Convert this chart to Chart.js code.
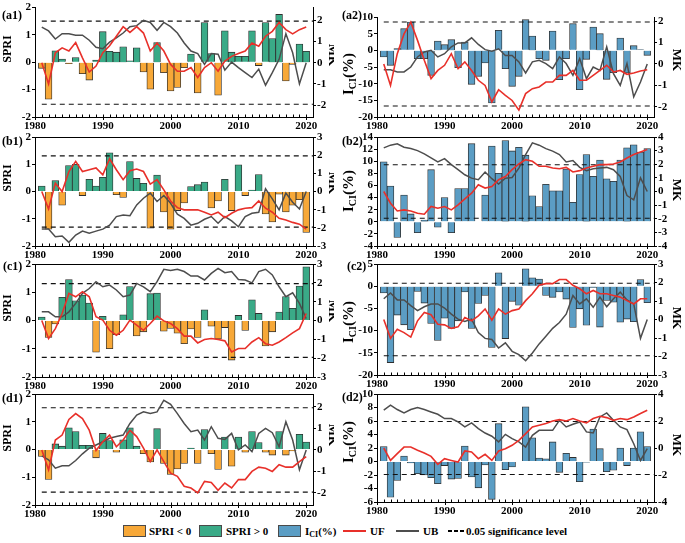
<!DOCTYPE html>
<html>
<head>
<meta charset="utf-8">
<script src="https://cdn.jsdelivr.net/npm/chart.js@4.4.0/dist/chart.umd.min.js"></script>
<style>
  body { margin: 0; width: 685px; height: 543px; background: #fff; position: relative; overflow: hidden;
         font-family: 'Liberation Serif', 'Times New Roman', serif; }
  canvas { position: absolute; }
  .lg { position: absolute; font: bold 11px 'Liberation Serif', 'Times New Roman', serif; color: #000; line-height: 12px; white-space: nowrap; }
  .box { position: absolute; height: 10px; width: 21px; border: 1px solid #4a4a4a; }
  .ln  { position: absolute; height: 2px; width: 23px; }
  .dash { position: absolute; height: 1.5px; width: 4px; background: #000; }
  sub { font-size: 8px; vertical-align: -2px; }
</style>
</head>
<body>

<div class="box" style="left:123px;top:525px;background:#F7A838"></div>
<div class="lg" style="left:149px;top:525px">SPRI &lt; 0</div>
<div class="box" style="left:199px;top:525px;background:#3AAA87"></div>
<div class="lg" style="left:226px;top:525px">SPRI &gt; 0</div>
<div class="box" style="left:278px;top:525px;background:#5B9DC4"></div>
<div class="lg" style="left:305px;top:525px">I<sub>CI</sub>(%)</div>
<div class="ln" style="left:343px;top:530px;background:#E8302A"></div>
<div class="lg" style="left:370px;top:525px">UF</div>
<div class="ln" style="left:396px;top:530px;background:#4D4D4D"></div>
<div class="lg" style="left:423px;top:525px">UB</div>
<div class="dash" style="left:448px;top:530px"></div>
<div class="dash" style="left:454px;top:530px"></div>
<div class="dash" style="left:460px;top:530px"></div>
<div class="lg" style="left:466px;top:525px">0.05 significance level</div>

<script>
/* ---- data ---- */
const YEARS = [1981, 1982, 1983, 1984, 1985, 1986, 1987, 1988, 1989, 1990,
               1991, 1992, 1993, 1994, 1995, 1996, 1997, 1998, 1999, 2000,
               2001, 2002, 2003, 2004, 2005, 2006, 2007, 2008, 2009, 2010,
               2011, 2012, 2013, 2014, 2015, 2016, 2017, 2018, 2019, 2020];
const DECADE_TICKS = [1980, 1990, 2000, 2010, 2020];
const SIG = 1.96;   // 0.05 significance level

// (a1) SPRI + MK
const spriA1 = [-0.22,-1.35,0.42,0.12,-0.05,0.17,-0.42,-0.65,0.08,1.12, 0.4,0.37,0.57,0.05,0.53,-0.35,-0.98,0.72,-0.38,-1.05,
                -0.92,-0.2,0.3,-1.12,1.45,0.32,-1.2,1.15,0.37,0.22, 0.22,1.15,-0.12,1.45,0.87,1.75,-0.68,-0.08,0.67,0.4];
const ufA1 = [0,-1.0,0.47,0.7,0.55,0.95,0.23,-0.44,-0.16,0.47, 0.8,1.25,1.7,1.43,1.7,1.4,0.55,0.93,0.55,-0.08,
              -0.4,-0.4,-0.23,-0.7,-0.23,0,-0.4,0.08,0.3,0.43, 0.55,0.93,0.78,1.25,1.48,1.9,1.56,1.36,1.56,1.68];
const ubA1 = [1.68,1.5,1.12,1.37,1.37,1.3,1.3,1.06,0.73,0.66, 0.97,1.17,1.4,1.7,1.75,2.0,1.9,1.53,1.9,1.7,
              1.4,0.93,0.55,0.43,-0.08,0.43,0.4,-0.35,0.03,-0.23, -0.47,-0.7,-0.3,-1.06,-0.47,0.16,1.37,0.47,-1.0,0];

// (a2) ICI + MK
const iciA2 = [-2,-4.5,0.5,6.5,8.5,-2.5,-2.5,-7.5,2.8,1.7, 3.2,-5.2,2.5,-10.2,-7.8,-3.8,-15.8,6.0,-5.5,-10.8,
               -7.8,9.2,4.3,-2.5,-3.0,5.8,-8.8,-2.5,8.0,-11.8, -2.7,7.0,5.0,-8.7,-6.7,3.7,-6.8,1.4,0.2,-1.5];
const ufA2 = [0,-1.0,0.48,1.4,1.95,1.1,0.17,-0.68,-0.3,-0.06, 0.48,-0.22,0.1,-0.3,-0.76,-1.0,-1.77,-1.2,-1.46,-1.7,
              -2.15,-1.38,-1.15,-1.07,-0.84,-0.84,-0.53,-0.53,-0.3,-0.76, -0.76,-0.53,-0.3,-0.06,-0.37,-0.3,-0.48,-0.42,-0.33,-0.27];
const ubA2 = [-0.27,-0.27,-0.37,-0.37,-0.14,0.33,0.56,0.64,0.33,0.48, 0.8,0.98,0.98,1.22,0.91,0.67,0.6,0.71,0.4,0.4,
              0.1,-0.42,0.1,0.17,0.02,-0.22,0.33,0.02,-0.53,0.25, -0.68,-0.14,-0.3,0.8,-0.45,-1.0,0.02,-1.53,-0.84,0];

// (b1)
const spriB1 = [0.2,-1.38,0.4,-0.5,0.95,1.0,-0.15,0.45,0.2,0.52, 1.42,-0.12,-0.22,1.1,0.48,0.3,-1.35,0.6,-0.75,-1.38,
                -0.7,-0.42,0.18,0.25,0.35,-0.6,-0.35,0.45,-0.7,0.98, -0.15,0.05,0.62,-0.82,-1.12,-0.1,-0.75,-0.5,-0.3,-1.5];
const ufB1 = [0,-0.96,0.46,0,1.1,1.66,1.1,1.2,1.3,0.92, 1.8,1.2,0.65,1.14,1.24,1.1,0.41,0.65,0.09,-0.52,
              -0.89,-1.01,-1.01,-1.01,-1.14,-1.29,-1.14,-1.44,-1.2,-1.01, -0.92,-0.89,-0.52,-0.92,-1.14,-1.48,-1.57,-1.7,-1.8,-2.07];
const ubB1 = [-2.07,-2.07,-2.49,-2.45,-2.8,-2.4,-2.18,-2.3,-2.18,-2.07, -1.85,-1.38,-1.29,-1.33,-0.74,-0.37,-0.09,-0.55,-0.22,-0.65,
              -1.25,-1.48,-1.85,-1.75,-1.53,-1.38,-1.75,-1.38,-1.62,-1.94, -1.38,-1.2,-1.14,0.15,-0.41,-1.01,-0.09,-0.59,-0.96,0];

// (b2)
const iciB2 = [9.9,5.9,-2.6,4.4,1.3,-1.8,0.3,8.6,-0.9,4.0, -1.8,5.5,5.5,12.9,0,4.4,12.5,8.0,13.4,11.7,
               12.3,11.0,4.3,2.5,6.2,5.1,5.1,8.7,3.2,7.8, 11.1,7.5,10.2,7.1,6.7,10.2,12.2,12.7,11.5,12.1];
const ufB2 = [0,-0.86,-1.43,-1.35,-1.43,-1.6,-1.67,-1.1,-1.23,-1.1, -1.35,-0.98,-0.54,-0.12,0.49,0.25,0.37,0.86,1.1,1.6,
              2.02,2.34,2.22,1.85,1.85,1.72,1.67,1.77,1.43,1.53, 1.72,1.85,1.97,1.97,2.02,2.17,2.46,2.71,2.9,3.08];
const ubB2 = [3.2,3.4,3.5,3.25,3.15,3.0,2.76,2.46,2.17,2.41, 1.97,1.6,1.23,0.98,0.86,1.43,0.94,0.54,0.98,1.03,
              1.72,2.71,3.57,3.4,3.15,2.96,2.71,2.17,2.27,1.77, 1.53,1.67,1.72,1.77,1.6,1.1,-0.3,-0.62,1.0,0];

// (c1)
const spriC1 = [0.12,-0.6,-0.12,0.82,1.45,0.7,0.9,0.62,-1.12,0.15, -1.0,-0.5,0.2,1.2,-0.55,-0.4,0.95,0.97,-0.38,-0.28,
                -0.45,-0.82,-0.3,-0.6,0.38,-0.2,-0.65,-0.25,-1.4,0.18, -0.35,0.73,0.25,-0.9,-0.4,0.3,0.85,0.43,1.22,1.9];
const ufC1 = [0,-0.96,-0.43,0.37,1.44,1.26,1.53,1.26,0.2,0.02, -0.52,-0.78,-0.52,0.02,-0.25,-0.52,-0.16,0.23,-0.02,-0.16,
              -0.43,-0.83,-0.83,-1.19,-1.01,-0.96,-1.01,-1.08,-1.67,-1.49, -1.49,-1.14,-0.91,-1.23,-1.31,-1.14,-0.91,-0.66,-0.43,0.37];
const ubC1 = [0.46,0.46,0.2,0.2,0.46,0.91,1.44,1.7,2.06,1.79, 1.88,1.62,1.26,1.35,1.97,1.79,1.53,2.06,2.72,2.65,
              2.72,2.6,2.36,2.36,2.15,2.5,2.77,2.54,2.6,2.18, 2.15,2.0,2.6,2.72,2.42,1.79,1.26,1.47,0.91,0.1];

// (c2)
const iciC2 = [-1.5,-17.2,-6.5,-8.7,-9.8,-1.2,-3.8,-8.4,-12.2,-7.2, -9.5,-7.8,-1.3,-9.5,-3.9,-2.1,-13.8,3.0,-11.8,-3.4,
               -4.3,3.9,1.9,1.6,-2.1,-2.5,-1.3,-2.9,-9.3,-5.1, -8.8,-0.3,-9.2,-3.2,-3.6,-8.1,-7.4,-8.0,1.5,-3.7];
const ufC2 = [0,-1.02,-0.53,-0.71,-0.95,-0.07,0.38,0.26,-0.26,-0.29, -0.48,-0.4,0.11,-0.07,0.2,0.57,-0.04,0.57,0.29,0.48,
              0.57,1.02,1.39,1.85,1.94,1.94,2.16,2.16,1.85,1.66, 1.39,1.57,1.39,1.39,1.3,1.21,1.02,0.84,1.12,1.12];
const ubC2 = [1.12,1.43,1.06,1.06,0.75,0.48,0.69,0.84,0.84,0.62, 0.29,0.02,-0.11,0.02,-0.71,-1.02,-1.08,-1.54,-1.26,-1.72,
              -1.9,-2.23,-1.81,-1.32,-0.9,-0.48,-0.16,0.29,1.3,0.84, 1.12,0.66,1.21,0.69,1.12,1.48,1.06,0.84,-1.02,0];

// (d1)
const spriD1 = [-0.25,-1.08,0.2,0.12,0.78,0.65,0.15,0.15,-0.3,0.58, 0.32,-0.1,0.35,0.78,0.12,-0.15,-0.45,0.75,-0.5,-0.9,
                -0.7,-0.5,0.05,-0.5,0.72,-0.15,-0.72,0.45,-0.6,0.45, -0.1,0.65,0.25,-0.1,-0.2,0.65,-0.2,-0.05,0.55,0.27];
const ufD1 = [0,-0.92,0.46,0.69,1.42,1.69,1.46,0.92,-0.03,0.38, 0.69,0.15,0.46,0.92,0.62,0.08,-0.54,0,-0.54,-1.08,
              -1.23,-1.69,-1.77,-2.0,-1.46,-1.51,-1.88,-1.54,-1.77,-1.38, -1.38,-1.0,-0.8,-0.85,-1.0,-0.69,-0.8,-0.8,-0.54,-0.31];
const ubD1 = [-0.28,-0.46,-0.85,-0.74,-0.74,-0.49,-0.18,0.08,0.23,0.38, 0.54,0.62,0.69,1.23,1.62,1.77,1.69,1.77,2.31,2.12,
              1.69,1.23,0.85,0.92,0.46,1.08,0.54,0.49,0.77,0, 0.23,-0.08,0.77,1.0,0.8,0.15,1.31,0.46,-0.92,0];

// (d2)
const iciD2 = [2.2,-5.3,-2.8,0.8,-0.2,-1.8,-2.0,-2.4,-3.3,-0.6, -2.6,-2.5,2.3,-2.3,-3.9,-0.5,-5.6,5.6,-1.2,-0.8,
               0,8.1,3.5,0.5,0.4,2.9,-1.6,1.2,0.6,-3.0, -0.1,4.8,1.9,-1.5,-1.3,2.0,-0.6,2.0,4.4,2.2];
const ufD2 = [0,-0.92,-0.42,0.07,0.07,-0.17,-0.37,-0.62,-1.21,-0.79, -0.92,-1.04,-0.22,-0.3,-0.79,-0.47,-0.92,-0.22,-0.05,0.2,
              0.57,1.06,1.56,1.68,1.81,2.0,2.1,2.0,2.18,2.0, 1.86,2.18,2.35,2.25,2.05,2.18,2.1,2.3,2.55,2.8];
const ubD2 = [2.8,3.17,2.85,2.6,2.85,3.0,2.85,2.67,2.5,2.18, 2.18,1.93,1.56,1.86,1.44,1.11,0.87,0.45,1.01,0.69,
              0.45,0.07,0.94,1.31,1.31,1.31,2.05,1.56,1.76,1.93, 1.19,1.11,2.3,2.6,2.05,1.56,1.36,0.32,-0.92,-0.05];

/* ---- style ---- */
const SERIF  = "'Liberation Serif', 'Times New Roman', serif";
const ORANGE = '#F7A838';
const GREEN  = '#3AAA87';
const BLUE   = '#5B9DC4';
const RED    = '#E8302A';
const GREY   = '#4D4D4D';
const X_MIN = 1980, X_MAX = 2021;

const tickFont = { family: SERIF, size: 11, weight: 'bold' };

function rotText(ctx, x, y, ang, parts) {
    ctx.save();
    ctx.translate(x, y);
    ctx.rotate(ang);
    let total = 0;
    parts.forEach(p => { ctx.font = `bold ${p.size}px ${SERIF}`; p.w = ctx.measureText(p.t).width; total += p.w; });
    let cx = -total / 2;
    ctx.textBaseline = 'middle';
    ctx.textAlign = 'left';
    ctx.fillStyle = '#000';
    parts.forEach(p => { ctx.font = `bold ${p.size}px ${SERIF}`; ctx.fillText(p.t, cx, p.dy || 0); cx += p.w; });
    ctx.restore();
}

/* titles, panel tag, minor year ticks */
const decor = {
    id: 'decor',
    afterDraw(chart, args, o) {
        const ctx = chart.ctx, a = chart.chartArea, xs = chart.scales.x;
        ctx.save();
        ctx.strokeStyle = '#000';
        ctx.lineWidth = 1;
        ctx.beginPath();
        for (let yr = X_MIN; yr <= X_MAX; yr++) {
            const px = Math.round(xs.getPixelForValue(yr)) + 0.5;
            const major = DECADE_TICKS.includes(yr);
            ctx.moveTo(px, a.bottom - 2.5);
            ctx.lineTo(px, a.bottom + (major ? 3 : 0));
        }
        if (o.topLine) {
            ctx.moveTo(a.left, Math.round(a.top) + 0.5);
            ctx.lineTo(a.right, Math.round(a.top) + 0.5);
        }
        ctx.stroke();

        ctx.fillStyle = '#000';
        ctx.font = `bold 12px ${SERIF}`;
        ctx.textBaseline = 'middle';
        ctx.textAlign = 'left';
        ctx.fillText(o.tag, o.tagX - o.ox, o.tagY - o.oy);

        if (o.left === 'SPRI') {
            rotText(ctx, o.ltX - o.ox, o.ltY - o.oy, -Math.PI / 2, [{ t: 'SPRI', size: 12 }]);
        } else {
            rotText(ctx, o.ltX - o.ox, o.ltY - o.oy, -Math.PI / 2,
                [{ t: 'I', size: 15 }, { t: 'CI', size: 10, dy: 4 }, { t: '(%)', size: 15 }]);
        }
        rotText(ctx, o.rtX - o.ox, o.rtY - o.oy, Math.PI / 2, [{ t: 'MK', size: 13 }]);
        ctx.restore();
    }
};

function panel(p) {
    const cv = document.createElement('canvas');
    cv.width = p.box.w;
    cv.height = p.box.h;
    cv.style.left = p.box.x + 'px';
    cv.style.top = p.box.y + 'px';
    document.body.appendChild(cv);

    const pts = arr => YEARS.map((yr, i) => ({ x: yr, y: arr[i] }));
    const sigLine = v => [{ x: YEARS[0], y: v }, { x: X_MAX, y: v }];
    const barColor = p.kind === 'spri'
        ? (c => (c.raw && c.raw.y < 0 ? ORANGE : GREEN))
        : BLUE;

    new Chart(cv, {
        data: {
            datasets: [
                { type: 'bar', data: pts(p.bars), yAxisID: 'y', order: 10,
                  backgroundColor: barColor, borderColor: '#2e2e2e', borderWidth: 0.8,
                  barPercentage: 1, categoryPercentage: 1 },
                { type: 'line', data: sigLine(SIG), yAxisID: 'y1', order: 3,
                  borderColor: '#111', borderWidth: 1.1, borderDash: [5, 4], pointRadius: 0 },
                { type: 'line', data: sigLine(-SIG), yAxisID: 'y1', order: 3,
                  borderColor: '#111', borderWidth: 1.1, borderDash: [5, 4], pointRadius: 0 },
                { type: 'line', data: pts(p.ub), yAxisID: 'y1', order: 1,
                  borderColor: GREY, borderWidth: 1.5, pointRadius: 0, tension: 0 },
                { type: 'line', data: pts(p.uf), yAxisID: 'y1', order: 0,
                  borderColor: RED, borderWidth: 1.6, pointRadius: 0, tension: 0 }
            ]
        },
        options: {
            responsive: false,
            animation: false,
            events: [],
            layout: { padding: { top: p.plot.t - p.box.y, left: 0, right: 0, bottom: 0 } },
            plugins: {
                legend: { display: false },
                tooltip: { enabled: false },
                decor: {
                    ox: p.box.x, oy: p.box.y, tag: p.tag, tagX: p.tagX, tagY: p.tagY,
                    left: p.kind === 'spri' ? 'SPRI' : 'ICI', ltX: p.ltX, ltY: p.ltY,
                    rtX: p.rtX, rtY: p.rtY, topLine: p.topLine
                }
            },
            scales: {
                x: {
                    type: 'linear', position: 'bottom', min: X_MIN, max: X_MAX, offset: false,
                    grid: { display: false, drawTicks: false },
                    border: { display: true, color: '#000', width: 1 },
                    ticks: { stepSize: 10, includeBounds: false, autoSkip: false, maxRotation: 0,
                             padding: 3, color: '#000', font: tickFont, callback: v => String(v) },
                    afterFit: s => { s.height = p.box.y + p.box.h - p.plot.b; }
                },
                y: {
                    position: 'left', min: p.yl[0], max: p.yl[1],
                    grid: { drawOnChartArea: false, drawTicks: true, tickLength: 3, color: '#000', tickColor: '#000' },
                    border: { display: true, color: '#000', width: 1 },
                    ticks: { stepSize: p.yl[2], includeBounds: false, autoSkip: false, padding: 1, color: '#000', font: tickFont },
                    afterFit: s => { s.width = p.plot.l - p.box.x; }
                },
                y1: {
                    position: 'right', min: p.yr[0], max: p.yr[1],
                    grid: { drawOnChartArea: false, drawTicks: true, tickLength: 3, color: '#000', tickColor: '#000' },
                    border: { display: true, color: '#000', width: 1 },
                    ticks: { stepSize: p.yr[2], includeBounds: false, autoSkip: false, padding: 1, color: '#000', font: tickFont },
                    afterFit: s => { s.width = p.box.x + p.box.w - p.plot.r; }
                }
            }
        },
        plugins: [decor]
    });
}

const L = { x: 0, w: 334 }, R = { x: 336, w: 349 };

panel({ tag: '(a1)', kind: 'spri', bars: spriA1, uf: ufA1, ub: ubA1,
        box: { x: L.x, y: 0, w: L.w, h: 136 }, plot: { l: 35, t: 7, r: 313, b: 117 },
        yl: [-2, 2, 1], yr: [-2.56, 2.6, 1], tagX: 2, tagY: 16, ltX: 8, ltY: 49, rtX: 332, rtY: 55, topLine: false });
panel({ tag: '(a2)', kind: 'ici', bars: iciA2, uf: ufA2, ub: ubA2,
        box: { x: R.x, y: 0, w: R.w, h: 136 }, plot: { l: 377, t: 17, r: 654, b: 117 },
        yl: [-20, 10, 5], yr: [-2.47, 2.19, 1], tagX: 342, tagY: 16, ltX: 349, ltY: 74, rtX: 676, rtY: 60, topLine: false });

panel({ tag: '(b1)', kind: 'spri', bars: spriB1, uf: ufB1, ub: ubB1,
        box: { x: L.x, y: 127, w: L.w, h: 137 }, plot: { l: 35, t: 137, r: 313, b: 246 },
        yl: [-2, 2, 1], yr: [-3, 3, 1], tagX: 2, tagY: 142, ltX: 8, ltY: 178, rtX: 332, rtY: 183, topLine: true });
panel({ tag: '(b2)', kind: 'ici', bars: iciB2, uf: ufB2, ub: ubB2,
        box: { x: R.x, y: 127, w: R.w, h: 137 }, plot: { l: 377, t: 137, r: 654, b: 246 },
        yl: [-4, 14, 2], yr: [-4, 4, 1], tagX: 342, tagY: 142, ltX: 349, ltY: 191, rtX: 676, rtY: 190, topLine: true });

panel({ tag: '(c1)', kind: 'spri', bars: spriC1, uf: ufC1, ub: ubC1,
        box: { x: L.x, y: 254, w: L.w, h: 141 }, plot: { l: 35, t: 264, r: 313, b: 377 },
        yl: [-2, 2, 1], yr: [-3, 3, 1], tagX: 3, tagY: 267, ltX: 8, ltY: 308, rtX: 332, rtY: 311, topLine: true });
panel({ tag: '(c2)', kind: 'ici', bars: iciC2, uf: ufC2, ub: ubC2,
        box: { x: R.x, y: 254, w: R.w, h: 141 }, plot: { l: 377, t: 264, r: 654, b: 375 },
        yl: [-20, 5, 5], yr: [-3, 3, 1], tagX: 347, tagY: 267, ltX: 349, ltY: 322, rtX: 676, rtY: 318, topLine: true });

panel({ tag: '(d1)', kind: 'spri', bars: spriD1, uf: ufD1, ub: ubD1,
        box: { x: L.x, y: 384, w: L.w, h: 139 }, plot: { l: 35, t: 394, r: 313, b: 505 },
        yl: [-2, 2, 1], yr: [-2.56, 2.6, 1], tagX: 2, tagY: 399, ltX: 8, ltY: 438, rtX: 332, rtY: 435, topLine: true });
panel({ tag: '(d2)', kind: 'ici', bars: iciD2, uf: ufD2, ub: ubD2,
        box: { x: R.x, y: 384, w: R.w, h: 139 }, plot: { l: 377, t: 394, r: 654, b: 502 },
        yl: [-6, 10, 2], yr: [-4, 4, 2], tagX: 342, tagY: 398, ltX: 349, ltY: 442, rtX: 676, rtY: 445, topLine: true });
</script>
</body>
</html>
